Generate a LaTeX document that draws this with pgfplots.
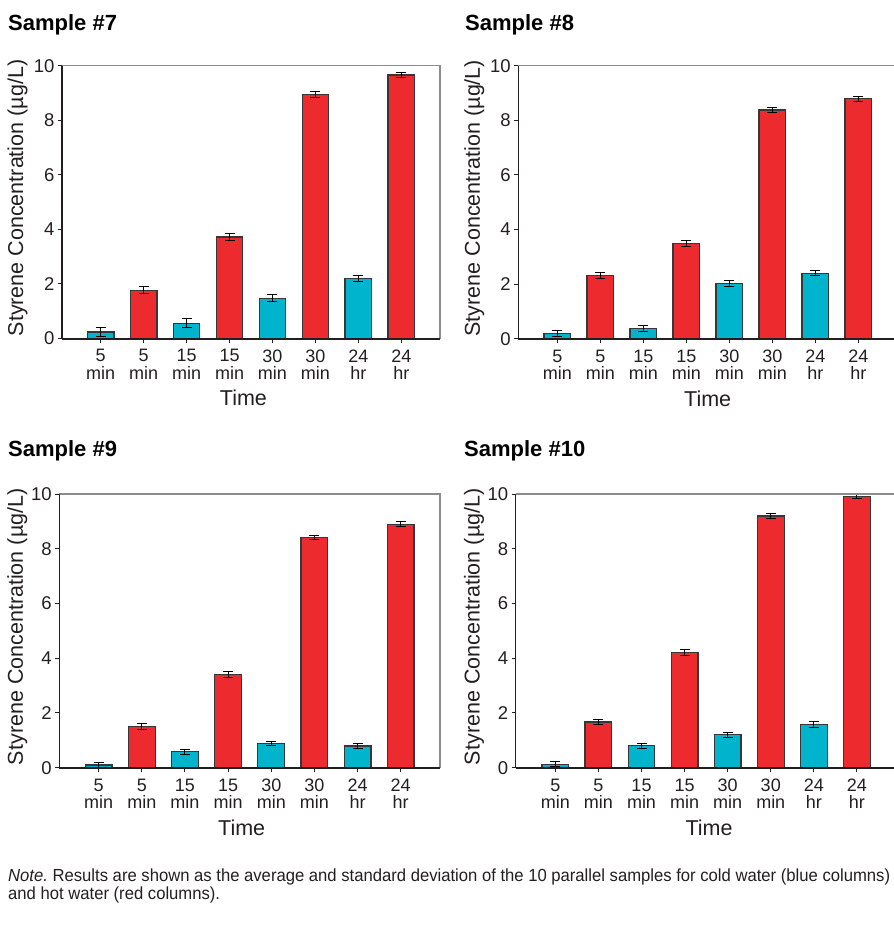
\documentclass[border=0pt]{standalone}
\usepackage{pgfplots}
\pgfplotsset{compat=1.18}
\usepackage{pgfplotstable}
\usepackage{graphicx}
\usepackage{fontspec}
\setmainfont{Liberation Sans}
\frenchspacing
\definecolor{cold}{RGB}{0,180,206}
\definecolor{hot}{RGB}{237,42,46}
\definecolor{edge}{RGB}{55,55,55}
\definecolor{txt}{RGB}{35,31,32}
\definecolor{boxgray}{RGB}{140,140,140}

% Sample 7
\pgfplotstableread{
x y e
0 0.24 0.16
2 0.56 0.16
4 1.47 0.13
6 2.19 0.11
}\coldA
\pgfplotstableread{
x y e
1 1.77 0.12
3 3.72 0.12
5 8.95 0.11
7 9.66 0.10
}\hotA
% Sample 8
\pgfplotstableread{
x y e
0 0.19 0.12
2 0.37 0.11
4 2.03 0.12
6 2.40 0.10
}\coldB
\pgfplotstableread{
x y e
1 2.32 0.12
3 3.50 0.11
5 8.38 0.10
7 8.79 0.10
}\hotB
% Sample 9
\pgfplotstableread{
x y e
0 0.10 0.08
2 0.59 0.09
4 0.89 0.08
6 0.79 0.10
}\coldC
\pgfplotstableread{
x y e
1 1.50 0.12
3 3.41 0.10
5 8.41 0.09
7 8.90 0.10
}\hotC
% Sample 10
\pgfplotstableread{
x y e
0 0.13 0.08
2 0.80 0.10
4 1.20 0.10
6 1.59 0.11
}\coldD
\pgfplotstableread{
x y e
1 1.67 0.10
3 4.20 0.11
5 9.20 0.10
7 9.90 0.08
}\hotD

\pgfplotsset{
  panel/.style={
    scale only axis, anchor=south west, clip=false, axis on top,
    ymin=0, ymax=10, ytick={0,2,4,6,8,10},
    xtick={0,...,7},
    xticklabels={{5\\min},{5\\min},{15\\min},{15\\min},{30\\min},{30\\min},{24\\hr},{24\\hr}},
    axis x line=bottom, axis y line=left,
    x axis line style={-, line width=2pt, draw=txt},
    y axis line style={-, line width=1.4pt, draw=txt},
    tick align=outside, major tick length=4pt,
    tick style={line width=1pt, draw=txt},
    /pgf/number format/assume math mode=true,
    yticklabel style={font=\fontsize{18.5}{18.5}\selectfont, text=txt},
    xticklabel style={font=\fontsize{18}{17.5}\selectfont, text=txt, align=center, yshift=-3.5pt},
    ylabel={Styrene Concentration (µg/L)},
    xlabel={Time},
    label style={font=\fontsize{21.5}{21.5}\selectfont, text=txt},
  },
  bars/.style={ybar, bar width=0.62, bar shift=0pt, draw=edge, line width=1.2pt, fill=#1,
    error bars/.cd, y dir=both, y explicit,
    error bar style={line width=1pt, draw=black},
    error mark options={rotate=90, mark size=5pt, line width=1pt, draw=black}},
}

\begin{document}
\begin{tikzpicture}[x=1pt,y=1pt]
\useasboundingbox (0,0) rectangle (894,-940);

% ---------- Sample #7
\node[anchor=base west, inner sep=0, font=\bfseries\fontsize{22}{22}\selectfont, text=black] at (8,-30) {Sample \#7};
\begin{axis}[panel, at={(62pt,-338.5pt)}, width=378pt, height=272.8pt,
  xmin=-0.90, xmax=7.90,
  ylabel style={at={(axis description cs:-0.1177,0.515)}, anchor=center},
  xlabel style={at={(axis description cs:0.48,-0.247)}, anchor=base}]
\addplot[bars=cold] table[x=x, y=y, y error=e] {\coldA};
\addplot[bars=hot] table[x=x, y=y, y error=e] {\hotA};
\draw[boxgray, line width=1.4pt] (rel axis cs:0,1) -- (rel axis cs:1,1) -- (rel axis cs:1,0);
\end{axis}

% ---------- Sample #8
\node[anchor=base west, inner sep=0, font=\bfseries\fontsize{22}{22}\selectfont, text=black] at (465,-30) {Sample \#8};
\begin{axis}[panel, at={(518.3pt,-338.7pt)}, width=378.7pt, height=273pt,
  xmin=-0.908, xmax=7.90,
  ylabel style={at={(axis description cs:-0.1164,0.515)}, anchor=center},
  xlabel style={at={(axis description cs:0.50,-0.247)}, anchor=base}]
\addplot[bars=cold] table[x=x, y=y, y error=e] {\coldB};
\addplot[bars=hot] table[x=x, y=y, y error=e] {\hotB};
\draw[boxgray, line width=1.4pt] (rel axis cs:0,1) -- (rel axis cs:1,1) -- (rel axis cs:1,0);
\end{axis}

% ---------- Sample #9
\node[anchor=base west, inner sep=0, font=\bfseries\fontsize{22}{22}\selectfont, text=black] at (8,-456) {Sample \#9};
\begin{axis}[panel, at={(59.3pt,-767.7pt)}, width=380.7pt, height=273.7pt,
  xmin=-0.913, xmax=7.911,
  ylabel style={at={(axis description cs:-0.110,0.515)}, anchor=center},
  xlabel style={at={(axis description cs:0.479,-0.247)}, anchor=base}]
\addplot[bars=cold] table[x=x, y=y, y error=e] {\coldC};
\addplot[bars=hot] table[x=x, y=y, y error=e] {\hotC};
\draw[boxgray, line width=1.4pt] (rel axis cs:0,1) -- (rel axis cs:1,1) -- (rel axis cs:1,0);
\end{axis}

% ---------- Sample #10
\node[anchor=base west, inner sep=0, font=\bfseries\fontsize{22}{22}\selectfont, text=black] at (464,-456) {Sample \#10};
\begin{axis}[panel, at={(515.7pt,-767.7pt)}, width=380pt, height=273.7pt,
  xmin=-0.92, xmax=7.90,
  ylabel style={at={(axis description cs:-0.1097,0.515)}, anchor=center},
  xlabel style={at={(axis description cs:0.509,-0.247)}, anchor=base}]
\addplot[bars=cold] table[x=x, y=y, y error=e] {\coldD};
\addplot[bars=hot] table[x=x, y=y, y error=e] {\hotD};
\draw[boxgray, line width=1.4pt] (rel axis cs:0,1) -- (rel axis cs:1,1) -- (rel axis cs:1,0);
\end{axis}

% ---------- Note
\node[anchor=base west, inner sep=0, text=txt] at (8,-881) {\resizebox*{882pt}{\totalheight}{\fontsize{17.5}{18.5}\selectfont\begin{tabular}[t]{@{}l@{}}\textit{Note.} Results are shown as the average and standard deviation of the 10 parallel samples for cold water (blue columns)\\and hot water (red columns).\end{tabular}}};
\end{tikzpicture}
\end{document}
